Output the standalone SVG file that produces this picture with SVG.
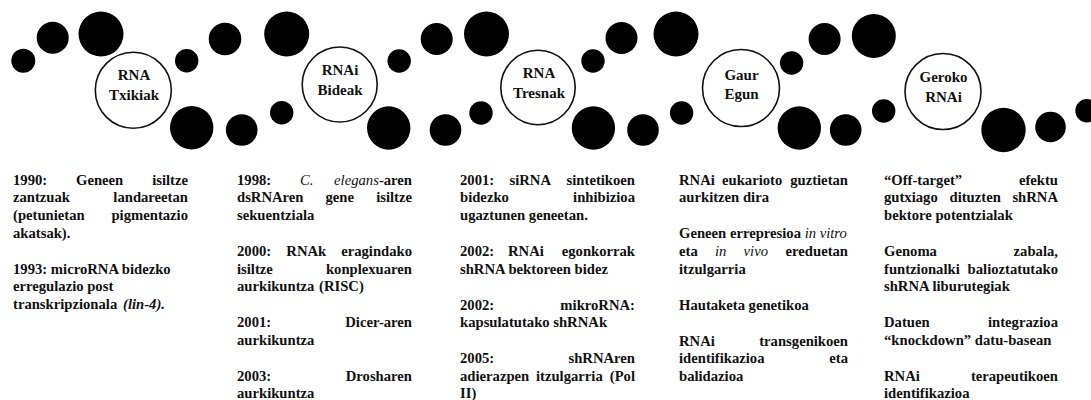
<svg xmlns="http://www.w3.org/2000/svg" width="1091" height="400" viewBox="0 0 1091 400">
<style>
.dot{fill:#000}
.node circle{fill:#fff;stroke:#111;stroke-width:1.6}
.lbl{font-family:"Liberation Serif","Times New Roman",serif;font-weight:bold;font-size:15px;text-anchor:middle;fill:#111}
.t{font-family:"Liberation Serif","Times New Roman",serif;font-weight:bold;font-size:14.667px;fill:#111}
.e{text-anchor:end}
.i{font-style:italic;font-weight:normal}
.bi{font-style:italic}
</style>
<rect width="1091" height="400" fill="#fff"/>
<g id="connectors">
  <circle class="dot" cx="23.3" cy="60.7" r="12"/>
  <circle class="dot" cx="52.7" cy="37.7" r="16"/>
  <circle class="dot" cx="101" cy="34" r="22.5"/>
  <circle class="dot" cx="191.7" cy="127.7" r="21.7"/>
  <circle class="dot" cx="241.7" cy="130" r="15.8"/>
  <circle class="dot" cx="281.7" cy="112.7" r="11.7"/>
  <circle class="dot" cx="186.7" cy="60.7" r="11.7"/>
  <circle class="dot" cx="225" cy="39" r="16.3"/>
  <circle class="dot" cx="286.7" cy="34" r="22.5"/>
  <circle class="dot" cx="388.7" cy="128" r="21.7"/>
  <circle class="dot" cx="445.5" cy="130" r="15.8"/>
  <circle class="dot" cx="481" cy="113" r="11.7"/>
  <circle class="dot" cx="399.2" cy="61" r="11.7"/>
  <circle class="dot" cx="436.7" cy="39" r="16"/>
  <circle class="dot" cx="486.5" cy="34" r="22.5"/>
  <circle class="dot" cx="593.4" cy="128" r="21.7"/>
  <circle class="dot" cx="643" cy="130" r="15.8"/>
  <circle class="dot" cx="681.6" cy="113" r="11.7"/>
  <circle class="dot" cx="593" cy="61" r="11.7"/>
  <circle class="dot" cx="621.5" cy="38" r="16"/>
  <circle class="dot" cx="676" cy="34" r="22.5"/>
  <circle class="dot" cx="799.3" cy="128" r="21.7"/>
  <circle class="dot" cx="845.7" cy="130" r="15.8"/>
  <circle class="dot" cx="883.7" cy="111" r="11.7"/>
  <circle class="dot" cx="791.6" cy="63" r="11.7"/>
  <circle class="dot" cx="824.6" cy="39" r="16"/>
  <circle class="dot" cx="873.8" cy="36" r="22"/>
  <circle class="dot" cx="1003.5" cy="130" r="22.2"/>
  <circle class="dot" cx="1050.5" cy="127" r="15.3"/>
  <circle class="dot" cx="1087" cy="110.7" r="11.7"/>
</g>
<g id="node1" class="node">
  <circle cx="133.3" cy="90.3" r="38"/>
  <text class="lbl" x="134" y="80">RNA</text>
  <text class="lbl" x="134" y="100">Txikiak</text>
</g>
<g id="node2" class="node">
  <circle cx="339.7" cy="84.5" r="37.5"/>
  <text class="lbl" x="340" y="74.5">RNAi</text>
  <text class="lbl" x="340" y="94.5">Bideak</text>
</g>
<g id="node3" class="node">
  <circle cx="538" cy="87.5" r="37.2"/>
  <text class="lbl" x="539" y="77.5">RNA</text>
  <text class="lbl" x="539" y="97.5">Tresnak</text>
</g>
<g id="node4" class="node">
  <circle cx="741" cy="88" r="38.5"/>
  <text class="lbl" x="741.5" y="80">Gaur</text>
  <text class="lbl" x="741.5" y="99">Egun</text>
</g>
<g id="node5" class="node">
  <circle cx="943" cy="91.5" r="38"/>
  <text class="lbl" x="943.5" y="81.5">Geroko</text>
  <text class="lbl" x="943.5" y="101.5">RNAi</text>
</g>
<g id="col1">
  <text class="t" x="13" y="184.5">1990:</text>
  <text class="t" x="76" y="184.5">Geneen</text>
  <text class="t e" x="188" y="184.5">isiltze</text>
  <text class="t" x="13" y="202.2">zantzuak</text>
  <text class="t e" x="188" y="202.2">landareetan</text>
  <text class="t" x="13" y="219.9">(petunietan</text>
  <text class="t e" x="188" y="219.9">pigmentazio</text>
  <text class="t" x="13" y="237.6">akatsak).</text>
  <text class="t" x="13" y="273.6">1993: microRNA bidezko</text>
  <text class="t" x="13" y="291.3">erregulazio post</text>
  <text class="t" x="13" y="309">transkripzionala</text>
  <text class="t bi" x="123" y="309">(lin-4).</text>
</g>
<g id="col2">
  <text class="t" x="237" y="184.5">1998:</text>
  <text class="t i" x="300" y="184.5">C.</text>
  <text class="t e" x="412" y="184.5"><tspan class="i">elegans</tspan>-aren</text>
  <text class="t" x="237" y="202.2">dsRNAren</text>
  <text class="t" x="325.5" y="202.2">gene</text>
  <text class="t e" x="412" y="202.2">isiltze</text>
  <text class="t" x="237" y="219.9">sekuentziala</text>
  <text class="t" x="237" y="255.9">2000:</text>
  <text class="t" x="286.3" y="255.9">RNAk</text>
  <text class="t e" x="412" y="255.9">eragindako</text>
  <text class="t" x="237" y="273.6">isiltze</text>
  <text class="t e" x="412" y="273.6">konplexuaren</text>
  <text class="t" x="237" y="291.3">aurkikuntza</text>
  <text class="t" x="319" y="291.3">(RISC)</text>
  <text class="t" x="237" y="327.3">2001:</text>
  <text class="t e" x="412" y="327.3">Dicer-aren</text>
  <text class="t" x="237" y="345">aurkikuntza</text>
  <text class="t" x="237" y="381">2003:</text>
  <text class="t e" x="412" y="381">Drosharen</text>
  <text class="t" x="237" y="398.2">aurkikuntza</text>
</g>
<g id="col3">
  <text class="t" x="460" y="184.5">2001:</text>
  <text class="t" x="509.5" y="184.5">siRNA</text>
  <text class="t e" x="635" y="184.5">sintetikoen</text>
  <text class="t" x="460" y="202.2">bidezko</text>
  <text class="t e" x="635" y="202.2">inhibizioa</text>
  <text class="t" x="460" y="219.9">ugaztunen geneetan.</text>
  <text class="t" x="460" y="255.9">2002:</text>
  <text class="t" x="508" y="255.9">RNAi</text>
  <text class="t e" x="635" y="255.9">egonkorrak</text>
  <text class="t" x="460" y="273.6">shRNA bektoreen bidez</text>
  <text class="t" x="460" y="309.6">2002:</text>
  <text class="t e" x="635" y="309.6">mikroRNA:</text>
  <text class="t" x="460" y="327.3">kapsulatutako shRNAk</text>
  <text class="t" x="460" y="363.3">2005:</text>
  <text class="t e" x="635" y="363.3">shRNAren</text>
  <text class="t" x="460" y="381">adierazpen</text>
  <text class="t" x="536" y="381">itzulgarria</text>
  <text class="t e" x="635" y="381">(Pol</text>
  <text class="t" x="460" y="398.2">II)</text>
</g>
<g id="col4">
  <text class="t" x="679" y="184.5">RNAi</text>
  <text class="t" x="722" y="184.5">eukarioto</text>
  <text class="t e" x="848" y="184.5">guztietan</text>
  <text class="t" x="679" y="202.2">aurkitzen dira</text>
  <text class="t" x="679" y="238.2">Geneen errepresioa <tspan class="i">in vitro</tspan></text>
  <text class="t" x="679" y="255.9">eta</text>
  <text class="t i" x="715" y="255.9">in</text>
  <text class="t i" x="743.6" y="255.9">vivo</text>
  <text class="t e" x="848" y="255.9">ereduetan</text>
  <text class="t" x="679" y="273.6">itzulgarria</text>
  <text class="t" x="679" y="309.6">Hautaketa genetikoa</text>
  <text class="t" x="679" y="345.6">RNAi</text>
  <text class="t e" x="848" y="345.6">transgenikoen</text>
  <text class="t" x="679" y="363.3">identifikazioa</text>
  <text class="t e" x="848" y="363.3">eta</text>
  <text class="t" x="679" y="381">balidazioa</text>
</g>
<g id="col5">
  <text class="t" x="884" y="184.5">“Off-target”</text>
  <text class="t e" x="1058" y="184.5">efektu</text>
  <text class="t" x="884" y="202.2">gutxiago</text>
  <text class="t" x="949.5" y="202.2">dituzten</text>
  <text class="t e" x="1058" y="202.2">shRNA</text>
  <text class="t" x="884" y="219.9">bektore potentzialak</text>
  <text class="t" x="884" y="255.9">Genoma</text>
  <text class="t e" x="1058" y="255.9">zabala,</text>
  <text class="t" x="884" y="273.6">funtzionalki</text>
  <text class="t e" x="1058" y="273.6">balioztatutako</text>
  <text class="t" x="884" y="291.3">shRNA liburutegiak</text>
  <text class="t" x="884" y="327.3">Datuen</text>
  <text class="t e" x="1058" y="327.3">integrazioa</text>
  <text class="t" x="884" y="345">“knockdown” datu-basean</text>
  <text class="t" x="884" y="381">RNAi</text>
  <text class="t e" x="1058" y="381">terapeutikoen</text>
  <text class="t" x="884" y="398.2">identifikazioa</text>
</g>
</svg>
